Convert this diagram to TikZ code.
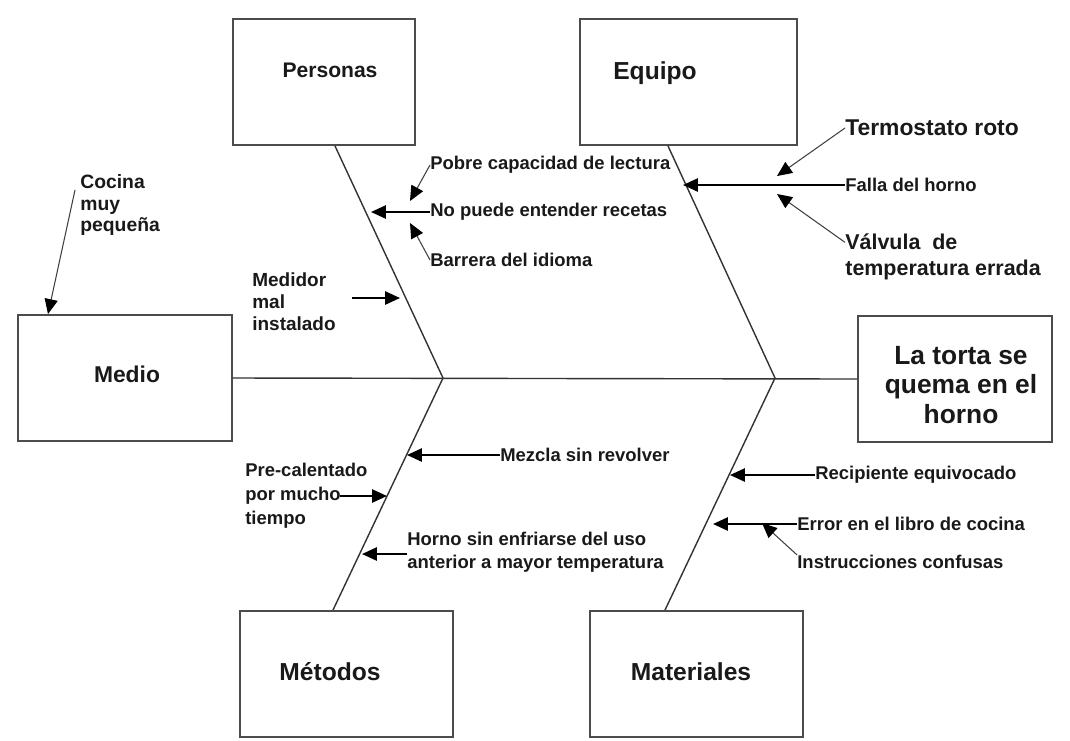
\documentclass[tikz,border=0pt]{standalone}
\usepackage{fontspec}
\setmainfont{Liberation Sans}
\usetikzlibrary{arrows.meta,calc}

\begin{document}
\begin{tikzpicture}[
    caja/.style={draw=black!70,line width=1.1pt,minimum width=#1,minimum height=2.52cm,inner sep=0pt},
    titulo/.style={font=\fontsize{#1}{17}\selectfont\bfseries,text=black!90,inner sep=0pt},
    causa/.style={font=\fontsize{10.5}{13}\selectfont\bfseries,text=black!90,align=left,anchor=west,inner sep=0pt},
    espina/.style={draw=black!80,line width=0.8pt},
    flecha/.style={line width=1.2pt,-{Triangle[length=8.5pt,width=7.5pt]}},
    fina/.style={draw=black!75,line width=0.6pt,-{Triangle[length=8.5pt,width=7.5pt,color=black]}}
]
    \useasboundingbox (0,0) rectangle (21.4,-14.8);

    \node[caja=3.64cm] (personas) at (6.48,-1.64) {};
    \node[caja=4.34cm] (equipo) at (13.77,-1.64) {};
    \node[caja=4.28cm] (medio) at (2.5,-7.56) {};
    \node[caja=3.88cm] (efecto) at (19.1,-7.58) {};
    \node[caja=4.26cm] (metodos) at (6.93,-13.48) {};
    \node[caja=4.26cm] (materiales) at (13.93,-13.48) {};

    \node[titulo=12] at (6.6,-1.4) {Personas};
    \node[titulo=14] at (13.1,-1.46) {Equipo};
    \node[titulo=13] at (2.54,-7.48) {Medio};
    \node[titulo=14] at (6.6,-13.44) {Métodos};
    \node[titulo=14] at (13.82,-13.44) {Materiales};
    \node[titulo=15,align=center] at (19.22,-7.7) {La torta se\\quema en el\\horno};

    \coordinate (j1) at (8.86,-7.56);
    \coordinate (j2) at (15.5,-7.56);
    \draw[espina] (medio.east) -- (efecto.west);
    \draw[espina] ($(personas.south)+(0.22,0)$) -- (j1) -- ($(metodos.north)+(-0.27,0)$);
    \draw[espina] ($(equipo.south)+(-0.41,0)$) -- (j2) -- ($(materiales.north)+(-0.63,0)$);

    % personas
    \node[causa] (pobre) at (8.6,-3.3) {Pobre capacidad de lectura};
    \node[causa] (nopuede) at (8.6,-4.24) {No puede entender recetas};
    \node[causa] (barrera) at (8.6,-5.2) {Barrera del idioma};
    \coordinate (tnopuede) at (7.42,-4.24);
    \coordinate (tpobre) at (8.2,-4.02);
    \coordinate (tbarrera) at (8.2,-4.46);
    \draw[flecha] (nopuede.west) -- (tnopuede);
    \draw[fina] (pobre.west) -- (tpobre);
    \draw[fina] (barrera.west) -- (tbarrera);

    % medio
    \node[causa,font=\fontsize{10.8}{12.5}\selectfont\bfseries] (medidor) at (5.04,-6.04) {Medidor\\mal\\instalado};
    \coordinate (smedidor) at (7.04,-5.96);
    \coordinate (tmedidor) at (8.0,-5.96);
    \draw[flecha] (smedidor) -- (tmedidor);
    \node[causa,font=\fontsize{11}{12.5}\selectfont\bfseries] (cocina) at (1.6,-4.1) {Cocina\\muy\\pequeña};
    \coordinate (scocina) at (1.5,-3.8);
    \draw[fina] (scocina) -- (medio.north west -| 0.96,0);

    % equipo
    \node[causa,font=\fontsize{13}{15}\selectfont\bfseries] (termostato) at (16.9,-2.56) {Termostato roto};
    \node[causa] (falla) at (16.9,-3.7) {Falla del horno};
    \node[causa,font=\fontsize{12.2}{14.8}\selectfont\bfseries] (valvula) at (16.9,-5.14) {Válvula\ \ de\\temperatura errada};
    \coordinate (tfalla) at (13.66,-3.7);
    \coordinate (ttermostato) at (15.54,-3.52);
    \coordinate (tvalvula) at (15.54,-3.88);
    \draw[flecha] (falla.west) -- (tfalla);
    \draw[fina] (termostato.west) -- (ttermostato);
    \draw[fina] ([yshift=-5pt]valvula.north west) -- (tvalvula);

    % metodos
    \node[causa] (mezcla) at (10.0,-9.1) {Mezcla sin revolver};
    \node[causa,font=\fontsize{10.5}{13.7}\selectfont\bfseries] (precal) at (4.9,-9.92) {Pre-calentado\\por mucho\\tiempo};
    \node[causa] (horno) at (8.14,-11.04) {Horno sin enfriarse del uso\\anterior a mayor temperatura};
    \coordinate (tmezcla) at (8.14,-9.1);
    \coordinate (sprecal) at (6.8,-9.92);
    \coordinate (tprecal) at (7.74,-9.92);
    \coordinate (thorno) at (7.24,-11.08);
    \draw[flecha] (mezcla.west) -- (tmezcla);
    \draw[flecha] (sprecal) -- (tprecal);
    \draw[flecha] (horno.west |- thorno) -- (thorno);

    % materiales
    \node[causa] (recipiente) at (16.3,-9.5) {Recipiente equivocado};
    \node[causa] (error) at (15.94,-10.48) {Error en el libro de cocina};
    \node[causa] (instr) at (15.94,-11.24) {Instrucciones confusas};
    \coordinate (trecipiente) at (14.6,-9.5);
    \coordinate (terror) at (14.26,-10.48);
    \coordinate (tinstr) at (15.24,-10.46);
    \draw[flecha] (recipiente.west) -- (trecipiente);
    \draw[flecha] (error.west) -- (terror);
    \draw[fina] (instr.north west) -- (tinstr);
\end{tikzpicture}
\end{document}
